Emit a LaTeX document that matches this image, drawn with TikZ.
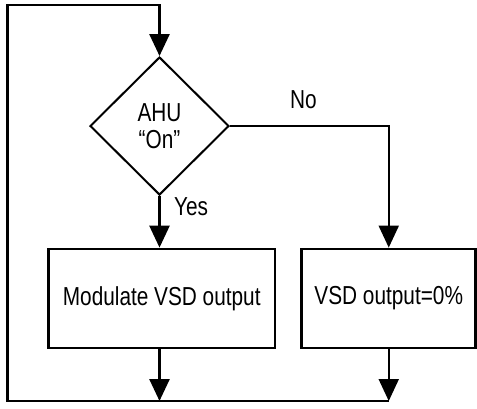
\documentclass[tikz,border=0pt]{standalone}
\usepackage{fontspec}
\setmainfont{Liberation Sans}[FakeStretch=0.8]
\usetikzlibrary{shapes.geometric,arrows.meta}
\begin{document}
\begin{tikzpicture}[x=1pt,y=-1pt,
  arr/.style={line width=2.6pt,-{Triangle[width=20pt,length=22pt]}},
  thinarr/.style={line width=2pt,-{Triangle[width=20pt,length=22pt]}},
  box/.style={draw,line width=2.8pt,inner sep=0pt,font=\fontsize{26}{27}\selectfont},
  dec/.style={diamond,draw,line width=2pt,inner sep=0pt,minimum width=139pt,minimum height=138pt,aspect=1,align=center,font=\fontsize{26}{27}\selectfont},
  lbl/.style={font=\fontsize{26}{27}\selectfont,inner sep=0pt,anchor=base}]
\useasboundingbox (0,0) rectangle (477,408);
\node[dec] (d) at (159.5,126) {AHU\\“On”};
\node[box,minimum width=226.5pt,minimum height=99pt] (b1) at (161.75,298.5) {Modulate VSD output};
\node[box,minimum width=174pt,minimum height=99pt] (b2) at (388.75,298.5) {VSD output=0\%};
\coordinate (tl) at (7.5,5);
\coordinate (bl) at (7.5,401);
\coordinate (j1) at (d |- bl);
\coordinate (j2) at (b2 |- bl);
\node[lbl] (no) at (303.5,108) {No};
\node[lbl] (yes) at (191,215) {Yes};
\draw[arr] (j2) -- (bl) -- (tl) -- (tl -| d.north) -- (d.north);
\draw[arr] (d.south) -- (d.south |- b1.north);
\draw[thinarr] (d.east) -- (d.east -| b2) -- (b2.north);
\draw[arr] (b1.south -| d) -- (j1);
\draw[thinarr] (b2.south) -- (j2);
\end{tikzpicture}
\end{document}
